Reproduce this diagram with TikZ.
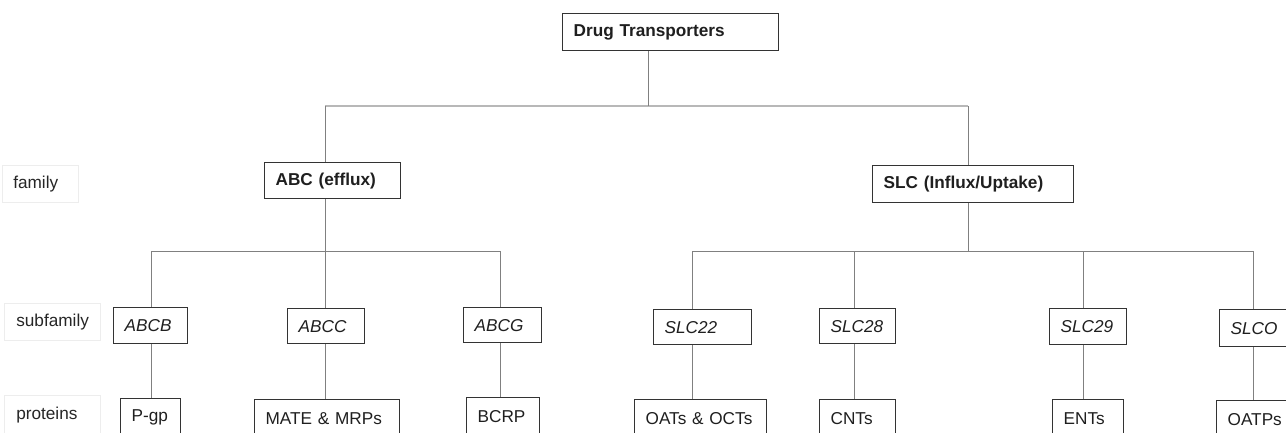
\documentclass[tikz,border=0pt]{standalone}
\usepackage{fontspec}
\setmainfont{Liberation Sans}
\begin{document}
\begin{tikzpicture}[x=1pt,y=-1pt,
  bx/.style={draw=black!80, line width=1.3pt, anchor=north west, inner xsep=11pt, inner ysep=0pt,
    align=left, font=\fontsize{17.2}{20}\selectfont, text=black!88},
  lbl/.style={draw=black!7, line width=0.6pt, anchor=north west, inner xsep=11pt, inner ysep=0pt,
    align=left, font=\fontsize{17.2}{20}\selectfont, text=black!85},
  conn/.style={draw=black!50, line width=1pt},
  bus/.style={draw=black!28, line width=1.6pt}]
\useasboundingbox (0,0) rectangle (1286,432);
\clip (0,0) rectangle (1286,432);
\fill[white] (0,0) rectangle (1286,432);
% row labels
\node[lbl, minimum width=76pt, minimum height=37pt, text width=54pt] (lfam) at (2,165) {\mbox{family}};
\node[lbl, inner xsep=12pt, minimum width=96pt, minimum height=37pt, text width=72pt] (lsub) at (4,303) {\mbox{subfamily}};
\node[lbl, inner xsep=12pt, minimum width=96pt, minimum height=40pt, text width=72pt] (lpro) at (4,395) {\mbox{proteins}};
% root and families
\node[bx, minimum width=216pt, minimum height=37pt, text width=194pt] (top) at (562,13) {\mbox{\bfseries Drug Transporters}};
\node[bx, minimum width=136pt, minimum height=36pt, text width=114pt] (abc) at (264,162) {\mbox{\bfseries ABC (efflux)}};
\node[bx, minimum width=201pt, minimum height=37pt, text width=179pt] (slc) at (872,165) {\mbox{\bfseries SLC (Influx/Uptake)}};
% subfamilies
\node[bx, minimum width=74pt, minimum height=36pt, text width=52pt] (abcb) at (113,307) {\mbox{\itshape ABCB}};
\node[bx, minimum width=77pt, minimum height=35pt, text width=55pt] (abcc) at (287,308) {\mbox{\itshape ABCC}};
\node[bx, minimum width=78pt, minimum height=35pt, text width=56pt] (abcg) at (463,307) {\mbox{\itshape ABCG}};
\node[bx, minimum width=98pt, minimum height=35pt, text width=76pt] (s22) at (653,309) {\mbox{\itshape SLC22}};
\node[bx, minimum width=76pt, minimum height=35pt, text width=54pt] (s28) at (819,308) {\mbox{\itshape SLC28}};
\node[bx, minimum width=77pt, minimum height=36pt, text width=55pt] (s29) at (1049,308) {\mbox{\itshape SLC29}};
\node[bx, minimum width=80pt, minimum height=37pt, text width=58pt] (sO) at (1219,309) {\mbox{\itshape SLCO}};
% proteins
\node[bx, minimum width=60pt, minimum height=38pt, text width=38pt] (pgp) at (120,398) {\mbox{P-gp}};
\node[bx, minimum width=145pt, minimum height=38pt, text width=123pt] (mate) at (254,399) {\mbox{MATE \& MRPs}};
\node[bx, minimum width=73pt, minimum height=38pt, text width=51pt] (bcrp) at (466,397) {\mbox{BCRP}};
\node[bx, minimum width=132pt, minimum height=38pt, text width=110pt] (oat) at (634,399) {\mbox{OATs \& OCTs}};
\node[bx, minimum width=76pt, minimum height=38pt, text width=54pt] (cnt) at (819,399) {\mbox{CNTs}};
\node[bx, minimum width=71pt, minimum height=38pt, text width=49pt] (ent) at (1052,399) {\mbox{ENTs}};
\node[bx, minimum width=80pt, minimum height=38pt, text width=58pt] (oatp) at (1216,400) {\mbox{OATPs}};
% junction points
\coordinate (j0) at (648,106);
\coordinate (jA) at (325,106);
\coordinate (jS) at (968,106);
\coordinate (kB) at (151,251);
\coordinate (kC) at (325,251);
\coordinate (kG) at (500,251);
\coordinate (mS) at (968,251);
\coordinate (m22) at (692,251);
\coordinate (m28) at (854,251);
\coordinate (m29) at (1083,251);
\coordinate (mO) at (1253,251);
% top level
\draw[bus] (jA) -- (jS);
\draw[conn] (top.south -| j0) -- (j0);
\draw[conn] (jA) -- (abc.north -| jA);
\draw[conn] (jS) -- (slc.north -| jS);
% ABC branch
\draw[conn] (abc.south -| kC) -- (kC);
\draw[conn] (kB) -- (kG);
\draw[conn] (kB) -- (abcb.north -| kB);
\draw[conn] (kC) -- (abcc.north -| kC);
\draw[conn] (kG) -- (abcg.north -| kG);
\draw[conn] (abcb.south -| kB) -- (pgp.north -| kB);
\draw[conn] (abcc.south -| kC) -- (mate.north -| kC);
\draw[conn] (abcg.south -| kG) -- (bcrp.north -| kG);
% SLC branch
\draw[conn] (slc.south -| mS) -- (mS);
\draw[conn] (m22) -- (mO);
\draw[conn] (m22) -- (s22.north -| m22);
\draw[conn] (m28) -- (s28.north -| m28);
\draw[conn] (m29) -- (s29.north -| m29);
\draw[conn] (mO) -- (sO.north -| mO);
\draw[conn] (s22.south -| m22) -- (oat.north -| m22);
\draw[conn] (s28.south -| m28) -- (cnt.north -| m28);
\draw[conn] (s29.south -| m29) -- (ent.north -| m29);
\draw[conn] (sO.south -| mO) -- (oatp.north -| mO);
\end{tikzpicture}
\end{document}
